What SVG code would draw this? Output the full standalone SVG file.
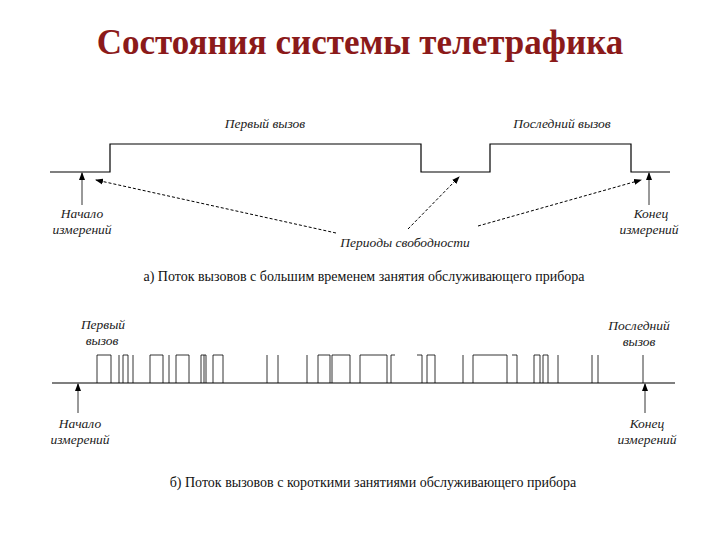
<svg xmlns="http://www.w3.org/2000/svg" width="720" height="540" viewBox="0 0 720 540">
<defs>
<marker id="ah" markerWidth="8" markerHeight="8" refX="7" refY="4" orient="auto" markerUnits="userSpaceOnUse"><path d="M0,1 L8,4 L0,7 Z" fill="#000"/></marker>
<style>
.l{stroke:#000;stroke-width:1.2;fill:none}
.t{stroke:#000;stroke-width:0.8;fill:none}
.d{stroke:#000;stroke-width:1;fill:none;stroke-dasharray:3,2}
.i{font-family:"Liberation Serif",serif;font-style:italic;font-size:13.5px;fill:#222;text-anchor:middle}
.c{font-family:"Liberation Serif",serif;font-size:14px;fill:#111;text-anchor:middle}
</style>
</defs>
<rect width="720" height="540" fill="#fff"/>
<text x="360" y="54" text-anchor="middle" font-family="Liberation Serif,serif" font-weight="bold" font-size="35" fill="#8b1a1a">Состояния системы телетрафика</text>

<g id="top-line"><path class="l" d="M50,172 H110 V144 H421 V172 H490 V144 H631 V172 H670"/></g>
<g id="top-labels">
<text class="i" x="265" y="128">Первый вызов</text>
<text class="i" x="562" y="128">Последний вызов</text>
<text class="i" x="82" y="218">Начало</text>
<text class="i" x="82" y="234">измерений</text>
<text class="i" x="651" y="218">Конец</text>
<text class="i" x="649" y="234">измерений</text>
<text class="i" x="405" y="247">Периоды свободности</text>
<text class="c" x="364" y="281">а)  Поток вызовов с большим временем занятия обслуживающего прибора</text>
</g>
<g id="connectors">
<line class="t" x1="82" y1="205" x2="82" y2="173" marker-end="url(#ah)"/>
<line class="t" x1="649" y1="205" x2="649" y2="173" marker-end="url(#ah)"/>
<line class="d" x1="336" y1="233" x2="96" y2="180" marker-end="url(#ah)"/>
<line class="d" x1="408" y1="229" x2="459" y2="177" marker-end="url(#ah)"/>
<line class="d" x1="478" y1="226" x2="641" y2="180" marker-end="url(#ah)"/>
<line class="t" x1="78" y1="413" x2="78" y2="384" marker-end="url(#ah)"/>
<line class="t" x1="645" y1="413" x2="645" y2="384" marker-end="url(#ah)"/>
</g>

<g id="bottom-line">
<line class="l" x1="52" y1="383" x2="675" y2="383"/>
<path class="t" d="M97,383 V355 H111 V383 M123,383 V355 H128 V383 M150,383 V355 H163 V383 M176,383 V355 H189 V383 M201,383 V355 H206 V383 M213,383 V355 H223 V383 M318,383 V355 H330 V383 M332,383 V355 H350 V383 M360,383 V355 H387 V383 M391,383 V355 H395 M417,355 H422 V383 M427,383 V355 H435 V383 M473,383 V355 H507 V383 M512,355 H517 V383 M534,383 V355 H540 V383 M543,383 V355 H548 V383"/>
<path class="t" d="M119,383 V355 M133,383 V355 M169,383 V355 M204,383 V355 M267,383 V355 M278,383 V355 M307,383 V355 M463,383 V355 M558,383 V355 M592,383 V355 M598,383 V355 M643,383 V355"/>
</g>
<g id="bottom-labels">
<text class="i" x="103" y="329">Первый</text>
<text class="i" x="102" y="345">вызов</text>
<text class="i" x="639" y="330">Последний</text>
<text class="i" x="639" y="346">вызов</text>
<text class="i" x="80" y="428">Начало</text>
<text class="i" x="80" y="444">измерений</text>
<text class="i" x="647" y="428">Конец</text>
<text class="i" x="647" y="444">измерений</text>
<text class="c" x="373" y="487">б)  Поток вызовов с короткими занятиями обслуживающего прибора</text>
</g>
</svg>
